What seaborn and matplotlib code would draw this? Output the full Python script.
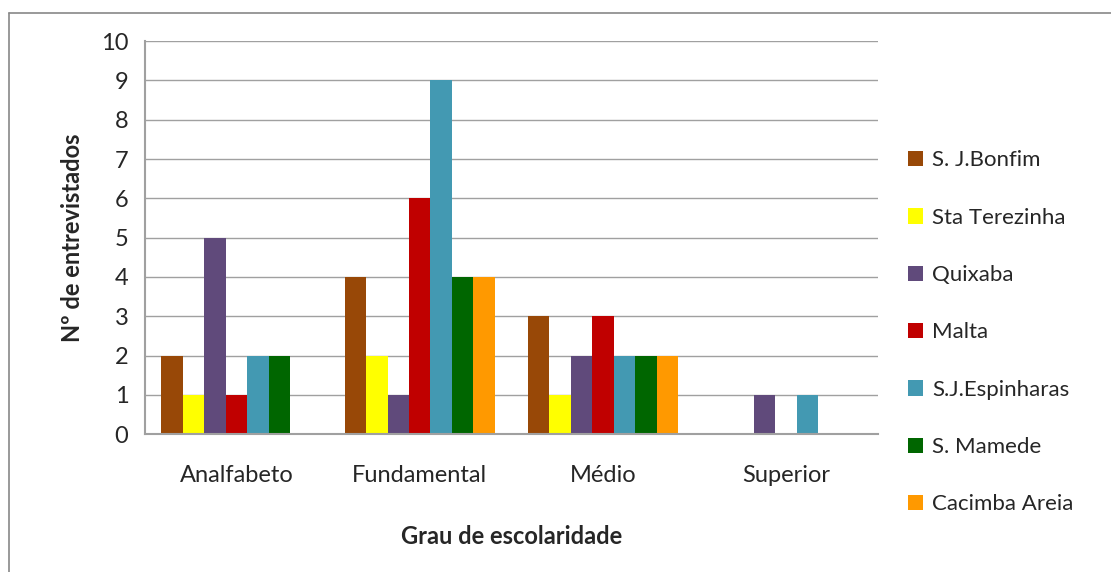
import matplotlib
matplotlib.use("Agg")
import matplotlib.pyplot as plt
import matplotlib.lines as mlines
import seaborn as sns
import pandas as pd

sns.set_style("white")
plt.rcParams['font.family'] = ['Lato', 'DejaVu Sans']

categories = ["Analfabeto", "Fundamental", "Médio", "Superior"]
series = ["S. J.Bonfim", "Sta Terezinha", "Quixaba", "Malta",
          "S.J.Espinharas", "S. Mamede", "Cacimba Areia"]
bonfim = [2, 4, 3, 0]
terezinha = [1, 2, 1, 0]
quixaba = [5, 1, 2, 1]
malta = [1, 6, 3, 0]
espinharas = [2, 9, 2, 1]
mamede = [2, 4, 2, 0]
cacimba = [0, 4, 2, 0]
colors = ["#984807", "#FFFF00", "#604A7B", "#C00000",
          "#4399B2", "#006600", "#FF9900"]

values = [bonfim, terezinha, quixaba, malta, espinharas, mamede, cacimba]
rows = []
for name, vals in zip(series, values):
    for cat, v in zip(categories, vals):
        rows.append({"cat": cat, "serie": name, "n": v})
df = pd.DataFrame(rows)

fig = plt.figure(figsize=(11.11, 5.72), dpi=100)
ax = fig.add_axes([0.1305, 0.241, 0.6595, 0.687])

sns.barplot(data=df, x="cat", y="n", hue="serie", order=categories,
            hue_order=series, palette=colors, width=0.82, saturation=1,
            linewidth=0, ax=ax, legend=True)

ax.set_ylim(0, 10)
ax.set_xlim(-0.5, 3.5)
ax.set_yticks(range(0, 11))
ax.yaxis.grid(True, color="#A0A0A0", linewidth=1)
ax.set_axisbelow(True)
for s in ["top", "right"]:
    ax.spines[s].set_visible(False)
ax.spines["left"].set_color("#A0A0A0")
ax.spines["bottom"].set_color("#A0A0A0")
ax.spines["left"].set_linewidth(1.5)
ax.spines["bottom"].set_linewidth(1.5)

# category boundary ticks, Excel style
ax.set_xticks([-0.5, 0.5, 1.5, 2.5, 3.5])
ax.set_xticklabels([])
ax.set_xticks(range(len(categories)), minor=True)
ax.set_xticklabels(categories, minor=True, fontsize=17)
ax.tick_params(axis="x", which="major", length=7, color="#A0A0A0", width=1.5, direction="out")
ax.tick_params(axis="x", which="minor", length=0, pad=22)
ax.tick_params(axis="y", length=7, color="#A0A0A0", width=1, direction="out", labelsize=17, pad=5)

ax.set_xlabel("Grau de escolaridade", fontsize=17, fontweight="bold", labelpad=28)
ax.set_ylabel("Nº de entrevistados", fontsize=17, fontweight="bold", labelpad=12)

handles, labels = ax.get_legend_handles_labels()
ax.legend_.remove()
fig.legend(handles, labels, loc="upper left", bbox_to_anchor=(0.799, 0.772),
           frameon=False, fontsize=16, labelspacing=1.68, handlelength=0.7,
           handleheight=0.7, handletextpad=0.4)

# outer chart border (left and top)
fig.add_artist(mlines.Line2D([9 / 1111, 9 / 1111], [0, 1 - 13 / 572],
                             color="#888888", linewidth=1.2))
fig.add_artist(mlines.Line2D([9 / 1111, 1], [1 - 13 / 572, 1 - 13 / 572],
                             color="#888888", linewidth=1.2))

fig.savefig("out.png", dpi=100)
